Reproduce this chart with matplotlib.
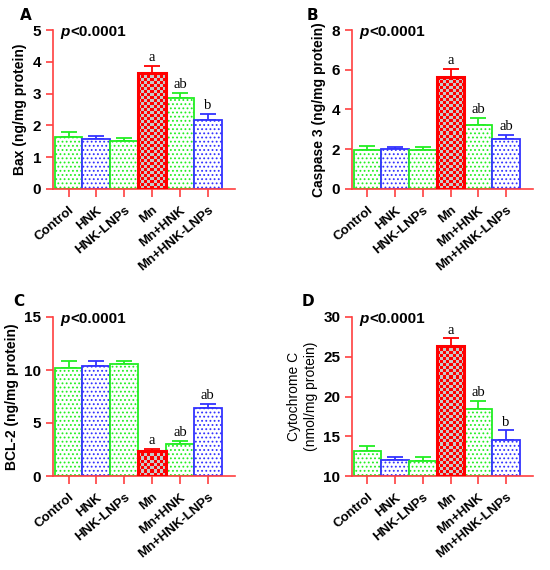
import numpy as np
import matplotlib
matplotlib.use("Agg")
import matplotlib.pyplot as plt

plt.rcParams['font.family'] = ['Liberation Sans', 'DejaVu Sans']
plt.rcParams['hatch.linewidth'] = 0.8

# groups and data
groups = ['Control', 'HNK', 'HNK-LNPs', 'Mn', 'Mn+HNK', 'Mn+HNK-LNPs']

bax = [1.65, 1.56, 1.50, 3.66, 2.85, 2.17]
bax_err = [0.13, 0.12, 0.09, 0.21, 0.16, 0.18]

casp3 = [1.97, 2.01, 1.94, 5.62, 3.21, 2.54]
casp3_err = [0.17, 0.12, 0.15, 0.44, 0.35, 0.20]

bcl2 = [10.22, 10.41, 10.53, 2.39, 3.05, 6.38]
bcl2_err = [0.63, 0.44, 0.32, 0.13, 0.22, 0.44]

cytc = [13.16, 12.06, 11.94, 26.38, 18.42, 14.55]
cytc_err = [0.63, 0.34, 0.46, 0.92, 1.05, 1.18]

letters_a = ['', '', '', 'a', 'ab', 'b']
letters_b = ['', '', '', 'a', 'ab', 'ab']
letters_c = ['', '', '', 'a', 'ab', 'ab']
letters_d = ['', '', '', 'a', 'ab', 'b']

green = '#22EE22'
blue = '#3333FF'
red = '#FF0000'
bar_colors = [green, blue, green, red, green, blue]

def draw_panel(ax, vals, errs, letters, ylim, yticks, ylabel, tag, tag_dx, label_bold=True):
    x = np.arange(len(groups))
    base = ylim[0]
    for i, (v, e) in enumerate(zip(vals, errs)):
        c = bar_colors[i]
        if c == red:
            b = ax.bar(x[i], v - base, bottom=base, width=1.0, facecolor='none',
                       edgecolor=red, linewidth=2.2, zorder=3)[0]
            # checker texture
            n_x, n_y = 9, int(round((v - base) / (ylim[1] - ylim[0]) * 53))
            chk = (np.add.outer(np.arange(max(n_y, 1)), np.arange(n_x)) % 2)
            cmap = matplotlib.colors.ListedColormap([red, '#C8C8C8'])
            im = ax.imshow(chk, cmap=cmap, extent=(x[i] - 0.5, x[i] + 0.5, base, v),
                           aspect='auto', interpolation='nearest', zorder=2)
            im.set_clip_path(b)
        else:
            ax.bar(x[i], v - base, bottom=base, width=1.0, facecolor='white',
                   edgecolor=c, hatch='....', linewidth=1.3, zorder=2)
        ax.errorbar(x[i], v, yerr=[[0], [e]], color=c, capsize=6, capthick=1.3,
                    elinewidth=1.3, zorder=1)
        if letters[i]:
            ax.text(x[i], v + e + (ylim[1] - ylim[0]) * 0.012, letters[i],
                    ha='center', va='bottom', family='Liberation Serif', fontsize=10.5)
    ax.set_xlim(-0.56, 5.98)
    ax.set_ylim(*ylim)
    ax.set_yticks(yticks)
    ax.set_xticks(x)
    ax.set_xticklabels(groups, rotation=40, ha='right', rotation_mode='anchor',
                       fontweight='bold', fontsize=9.5)
    for lab in ax.get_yticklabels():
        lab.set_fontweight('bold')
        lab.set_fontsize(11)
    ax.spines['top'].set_visible(False)
    ax.spines['right'].set_visible(False)
    for s in ('left', 'bottom'):
        ax.spines[s].set_color('#FF4040')
        ax.spines[s].set_linewidth(1.2)
    ax.tick_params(axis='both', colors='#FF4040', labelcolor='black', width=1.2, length=5)
    ax.tick_params(axis='x', length=6, pad=5)
    ax.set_ylabel(ylabel, fontweight='bold' if label_bold else 'normal', fontsize=10,
                  labelpad=4)
    ax.text(0.04, 0.99, 'p', style='italic', fontweight='bold', fontsize=11,
            transform=ax.transAxes, va='center', ha='left')
    ax.text(0.094, 0.99, '<0.0001', fontweight='bold', fontsize=11,
            transform=ax.transAxes, va='center', ha='left')
    ax.annotate(tag, xy=(0, 1), xycoords='axes fraction', xytext=(tag_dx, 15),
                textcoords='offset pixels', fontweight='bold', fontsize=11,
                family='DejaVu Sans', va='center', ha='left')

fig = plt.figure(figsize=(5.5, 5.7), dpi=100)
W, H = 550, 570
def rect(l, r, t, b):
    return [l / W, 1 - b / H, (r - l) / W, (b - t) / H]

axA = fig.add_axes(rect(53, 235, 30, 189))
axB = fig.add_axes(rect(352, 533, 30, 189))
axC = fig.add_axes(rect(53, 235, 317, 476))
axD = fig.add_axes(rect(352, 533, 317, 476))

draw_panel(axA, bax, bax_err, letters_a, (0, 5), [0, 1, 2, 3, 4, 5],
           'Bax (ng/mg protein)', 'A', -33)
draw_panel(axB, casp3, casp3_err, letters_b, (0, 8), [0, 2, 4, 6, 8],
           'Caspase 3 (ng/mg protein)', 'B', -45)
draw_panel(axC, bcl2, bcl2_err, letters_c, (0, 15), [0, 5, 10, 15],
           'BCL-2 (ng/mg protein)', 'C', -40)
draw_panel(axD, cytc, cytc_err, letters_d, (10, 30), [10, 15, 20, 25, 30],
           'Cytochrome C\n(nmol/mg protein)', 'D', -50, label_bold=False)

fig.savefig('out.png', dpi=100)
